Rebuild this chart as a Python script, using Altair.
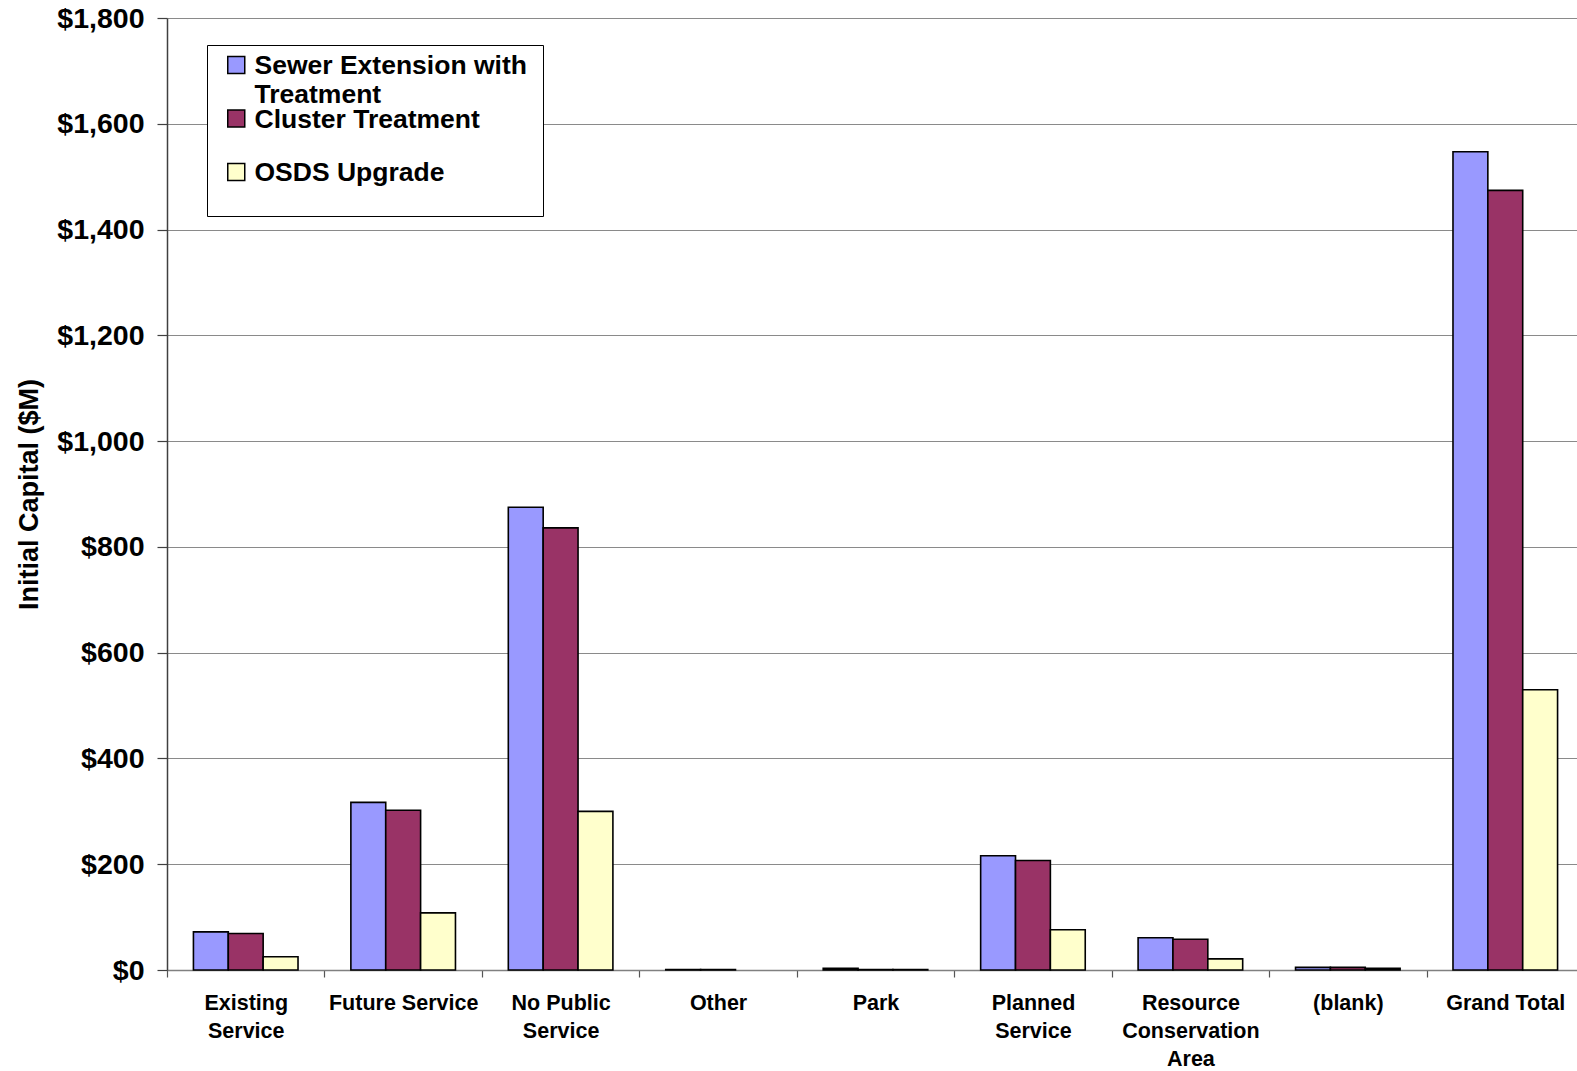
import json

import altair as alt
import pandas as pd

# Initial capital cost ($M) by service area, for three wastewater options
categories = [
    "Existing Service",
    "Future Service",
    "No Public Service",
    "Other",
    "Park",
    "Planned Service",
    "Resource Conservation Area",
    "(blank)",
    "Grand Total",
]
series = ["Sewer Extension with Treatment", "Cluster Treatment", "OSDS Upgrade"]
sewer = [72, 317, 875, 1, 3, 216, 61, 5, 1547]
cluster = [69, 302, 836, 1, 1, 207, 58, 5, 1474]
osds = [25, 108, 300, 0, 1, 76, 21, 3, 530]
colors = ["#9999FF", "#993366", "#FFFFCC"]
y_ticks = [0, 200, 400, 600, 800, 1000, 1200, 1400, 1600, 1800]

# Line breaks for the category and legend labels
category_lines = {
    "Existing Service": ["Existing", "Service"],
    "No Public Service": ["No Public", "Service"],
    "Planned Service": ["Planned", "Service"],
    "Resource Conservation Area": ["Resource", "Conservation", "Area"],
}
series_lines = {
    "Sewer Extension with Treatment": ["Sewer Extension with", "Treatment"],
}


def wrap_expr(mapping):
    expr = "datum.label"
    for key, lines in mapping.items():
        expr = f"datum.label === {json.dumps(key)} ? {json.dumps(lines)} : ({expr})"
    return expr


rows = []
for values, name in zip([sewer, cluster, osds], series):
    for cat, v in zip(categories, values):
        rows.append({"category": cat, "series": name, "value": v})
df = pd.DataFrame(rows)

FONT = "Liberation Sans"

bars = (
    alt.Chart(df)
    .mark_bar(stroke="black")
    .encode(
        x=alt.X(
            "category:N",
            sort=categories,
            # the category bands run slightly past the right edge of the view
            scale=alt.Scale(paddingInner=0, paddingOuter=0, range=[0, 1417]),
            axis=alt.Axis(
                title=None,
                labelAngle=0,
                labelExpr=wrap_expr(category_lines),
                labelFont=FONT,
                labelFontSize=21.5,
                labelFontWeight="bold",
                labelColor="black",
                labelLineHeight=28,
                labelPadding=15,
                labelLimit=200,
                labelBaseline="top",
                tickBand="extent",
                tickSize=7,
                tickColor="#555555",
                tickWidth=1.2,
                domainColor="#808080",
                domainWidth=1.5,
                grid=False,
            ),
        ),
        xOffset=alt.XOffset(
            "series:N",
            sort=series,
            scale=alt.Scale(paddingInner=0, paddingOuter=0.758),
        ),
        y=alt.Y(
            "value:Q",
            scale=alt.Scale(domain=[0, 1800], nice=False),
            axis=alt.Axis(
                title="Initial Capital ($M)",
                titleFont=FONT,
                titleFontSize=27,
                titleFontWeight="bold",
                titleColor="black",
                titleBaseline="alphabetic",
                titleX=-130,
                titleY=476,
                values=y_ticks,
                format="$,.0f",
                labelFont=FONT,
                labelFontSize=28.5,
                labelFontWeight="bold",
                labelColor="black",
                labelPadding=13,
                tickSize=10,
                tickColor="#404040",
                tickWidth=1.2,
                domainColor="#404040",
                domainWidth=1.5,
                grid=True,
                gridColor="#8a8a8a",
                gridWidth=1.2,
            ),
        ),
        color=alt.Color(
            "series:N",
            sort=series,
            scale=alt.Scale(domain=series, range=colors),
            legend=alt.Legend(
                title=" ",
                titleOrient="bottom",
                titleFontSize=13,
                titlePadding=0,
                orient="none",
                legendX=40,
                legendY=27,
                padding=16,
                strokeColor="black",
                fillColor="white",
                symbolType="M-1,-2.09H1V-0.09H-1Z",
                symbolSize=289,
                symbolStrokeColor="black",
                symbolStrokeWidth=1.5,
                symbolOpacity=1,
                labelExpr=wrap_expr(series_lines),
                labelFont=FONT,
                labelFontSize=26.5,
                labelFontWeight="bold",
                labelColor="black",
                labelBaseline="alphabetic",
                labelOffset=5,
                labelLimit=400,
                gridAlign="all",
                rowPadding=-2.5,
            ),
        ),
        strokeWidth=alt.condition("datum.value > 0", alt.value(1.6), alt.value(0)),
    )
)

chart = (
    bars.properties(
        width=1410,
        height=952,
        autosize=alt.AutoSizeParams(type="none"),
        padding={"left": 167, "top": 18, "right": 0, "bottom": 101},
    )
    .configure_view(stroke=None)
    .configure(background="white")
)

chart.save("out.html", embed_options={"renderer": "svg", "actions": False})
